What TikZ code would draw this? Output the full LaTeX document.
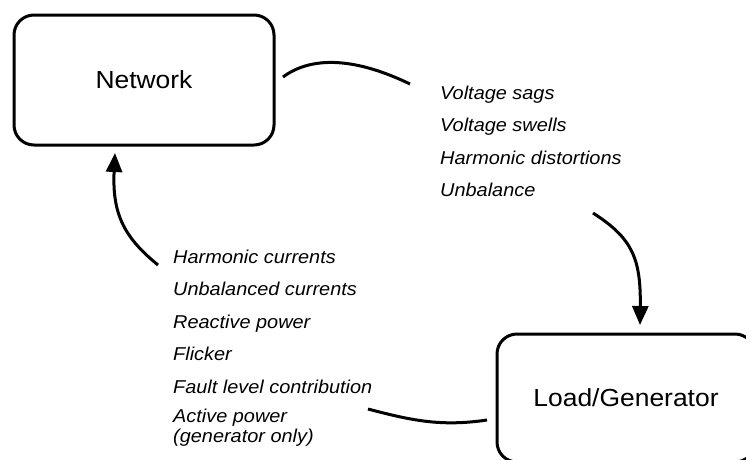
\documentclass[tikz,border=0pt]{standalone}
\usepackage{fontspec}
\setmainfont{Liberation Sans}[FakeStretch=1.07]
\usetikzlibrary{arrows.meta}

\begin{document}
\begin{tikzpicture}[x=1pt,y=-1pt,
  box/.style={draw, line width=3pt, rounded corners=20pt, inner sep=0pt,
    font=\fontsize{24.7}{28}\selectfont},
  item/.style={anchor=base west, inner sep=0pt,
    font=\fontsize{18.6}{22}\selectfont\itshape},
  link/.style={line width=3pt},
  flow/.style={link, -{Triangle[length=19pt,width=16pt]}}]

\useasboundingbox (0,0) rectangle (746,459);
\clip (0,0) rectangle (746,459);

% the two blocks
\node[box, minimum width=260pt, minimum height=130pt] (net) at (144,80) {Network};
\node[box, minimum width=258pt, minimum height=128pt] (load) at (626,398) {Load/Generator};

% effects of the network on the load
\node[item] (r1) at (440,99)   {Voltage sags};
\node[item] (r2) at (440,131.5) {Voltage swells};
\node[item] (r3) at (440,164)  {Harmonic distortions};
\node[item] (r4) at (440,196.5) {Unbalance};

% effects of the load/generator on the network
\node[item] (l1) at (173,263)   {Harmonic currents};
\node[item] (l2) at (173,295.5) {Unbalanced currents};
\node[item] (l3) at (173,328)   {Reactive power};
\node[item] (l4) at (173,360.5) {Flicker};
\node[item] (l5) at (173,393)   {Fault level contribution};
\node[item] (l6) at (173,422.5) {Active power};
\node[item] (l7) at (173,442)   {(generator only)};

% connector end points
\coordinate (netOut) at (283,77);
\coordinate (netOutEnd) at (410,84);
\coordinate (downStart) at (593,213);
\coordinate (downTip) at (640,325);
\coordinate (loadOut) at (487,420);
\coordinate (loadOutEnd) at (368,409);
\coordinate (upStart) at (158,265);
\coordinate (upTip) at (115,153);

\draw[link] (netOut) .. controls (310,57) and (352,56) .. (netOutEnd);
\draw[flow] (downStart) .. controls (632,238) and (641,258) .. (downTip);
\draw[link] (loadOut) .. controls (440,427) and (410,420) .. (loadOutEnd);
\draw[flow] (upStart) .. controls (125,238) and (112,215) .. (upTip);
\end{tikzpicture}
\end{document}
